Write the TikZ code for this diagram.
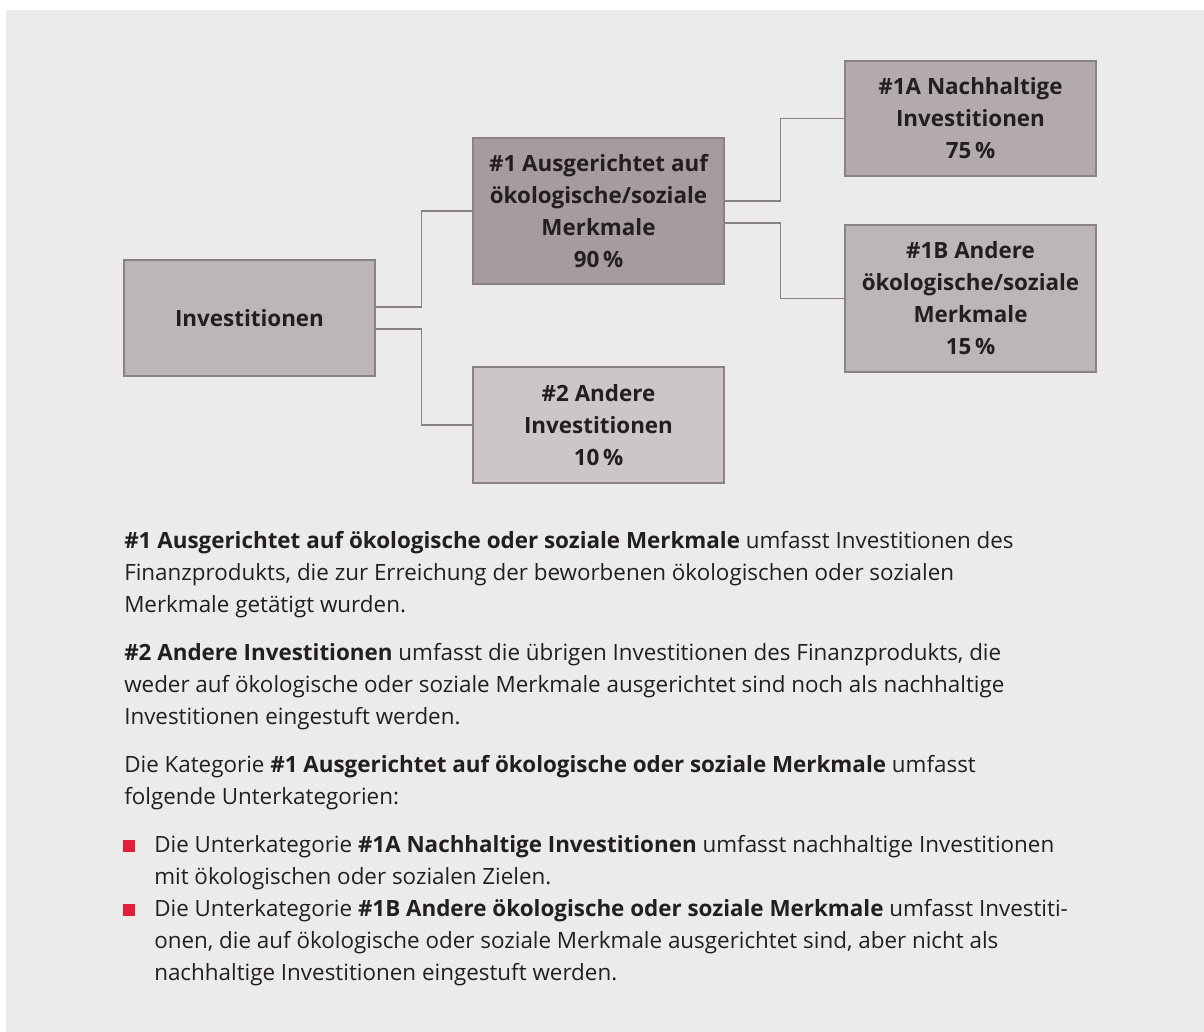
\documentclass[tikz,border=0pt]{standalone}
\usepackage{fontspec}
\setmainfont{Open Sans}
\usetikzlibrary{calc}
\definecolor{panel}{HTML}{EBEBE9}
\definecolor{ink}{HTML}{231F20}
\definecolor{edge}{HTML}{8A8284}
\definecolor{boxA}{HTML}{BDB6B6}
\definecolor{boxB}{HTML}{A69B9D}
\definecolor{boxC}{HTML}{B3ABAB}
\definecolor{boxD}{HTML}{CCC6C6}
\definecolor{bullred}{HTML}{E31D3C}
\tikzset{
  box/.style={draw=edge, line width=1.1pt, text=ink, align=center,
    minimum width=188.25pt, inner sep=0pt,
    font=\bfseries\fontsize{16.8}{24}\selectfont},
  conn/.style={draw=edge, line width=1.1pt},
  line/.style={anchor=base west, inner sep=0pt, text=ink,
    font=\fontsize{16.8}{24}\selectfont},
  bull/.style={fill=bullred, draw=none}
}
\begin{document}
\begin{tikzpicture}[x=0.75pt,y=-0.75pt]
\useasboundingbox (0,0) rectangle (1204,1032);
\fill[white] (0,0) rectangle (1204,1032);
\fill[panel] (6,10) rectangle (1204,1032);

\node[box, fill=boxA, minimum height=87pt] (inv) at (249.5,318) {Investitionen};
\node[box, fill=boxB, minimum height=109.5pt] (n1) at (598.5,211)
  {\#1 Ausgerichtet auf\\ökologische/soziale\\Merkmale\\90\,\%};
\node[box, fill=boxD, minimum height=87pt] (n2) at (598.5,425)
  {\#2 Andere\\Investitionen\\10\,\%};
\node[box, fill=boxC, minimum height=86.25pt] (n1a) at (970.5,118.5)
  {\#1A Nachhaltige\\Investitionen\\75\,\%};
\node[box, fill=boxA, minimum height=110.25pt] (n1b) at (970.5,298.5)
  {\#1B Andere\\ökologische/soziale\\Merkmale\\15\,\%};

\draw[conn] ($(inv.east)+(0,-11)$) -- ++(46,0) |- (n1.west);
\draw[conn] ($(inv.east)+(0,11)$) -- ++(46,0) |- (n2.west);
\draw[conn] ($(n1.east)+(0,-10)$) -- ++(56,0) |- (n1a.west);
\draw[conn] ($(n1.east)+(0,12)$) -- ++(56,0) |- (n1b.west);

\node[line] (t1) at (124,548) {\textbf{\#1 Ausgerichtet auf ökologische oder soziale Merkmale} umfasst Investitionen des};
\node[line] (t2) at (124,580) {Finanzprodukts, die zur Erreichung der beworbenen ökologischen oder sozialen};
\node[line] (t3) at (124,612) {Merkmale getätigt wurden.};
\node[line] (t4) at (124,660) {\textbf{\#2 Andere Investitionen} umfasst die übrigen Investitionen des Finanzprodukts, die};
\node[line] (t5) at (124,692) {weder auf ökologische oder soziale Merkmale ausgerichtet sind noch als nachhaltige};
\node[line] (t6) at (124,724) {Investitionen eingestuft werden.};
\node[line] (t7) at (124,772) {Die Kategorie \textbf{\#1 Ausgerichtet auf ökologische oder soziale Merkmale} umfasst};
\node[line] (t8) at (124,804) {folgende Unterkategorien:};
\node[line] (t9) at (154,852) {Die Unterkategorie \textbf{\#1A Nachhaltige Investitionen} umfasst nachhaltige Investitionen};
\node[line] (t10) at (154,884) {mit ökologischen oder sozialen Zielen.};
\node[line] (t11) at (154,916) {Die Unterkategorie \textbf{\#1B Andere ökologische oder soziale Merkmale} umfasst Investiti-};
\node[line] (t12) at (154,948) {onen, die auf ökologische oder soziale Merkmale ausgerichtet sind, aber nicht als};
\node[line] (t13) at (154,980) {nachhaltige Investitionen eingestuft werden.};

\fill[bull] (123,840) rectangle (135,852);
\fill[bull] (123,904) rectangle (135,916);
\end{tikzpicture}
\end{document}
